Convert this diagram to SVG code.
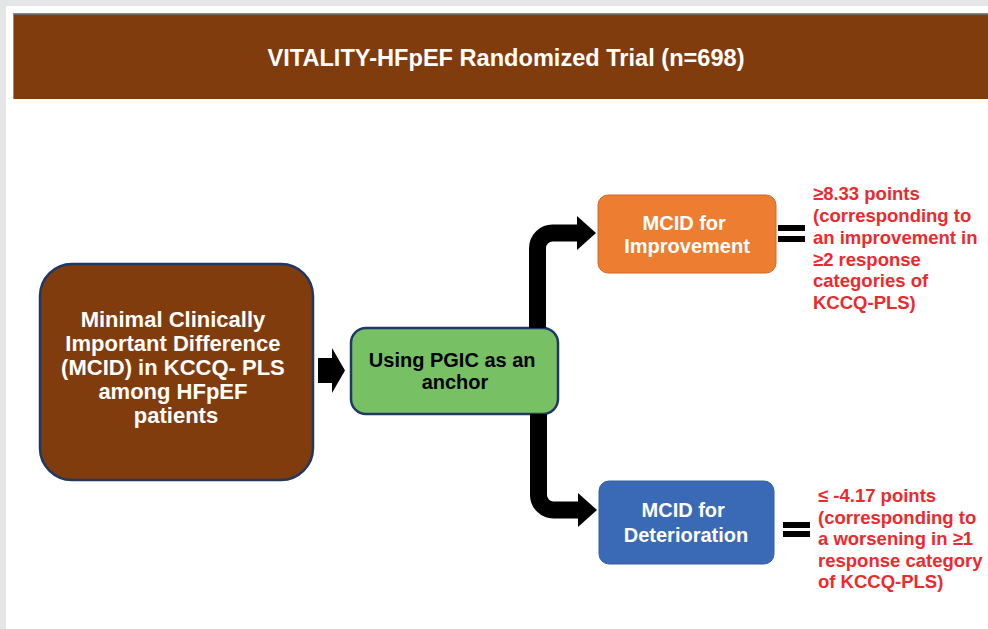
<svg xmlns="http://www.w3.org/2000/svg" width="988" height="629" viewBox="0 0 988 629">
  <style>
    .t { font-family: "Liberation Sans", Arial, sans-serif; font-weight: bold; text-anchor: middle; }
    .w { fill: #ffffff; }
    .k { fill: #000000; }
    .r { font-family: "Liberation Sans", Arial, sans-serif; font-weight: bold; font-size: 18.5px; fill: #ec2a2e; }
    .conn { fill: none; stroke: #000000; stroke-width: 17; }
    .eq { fill: #000000; }
  </style>
  <defs>
    <marker id="head" markerUnits="userSpaceOnUse" markerWidth="20" markerHeight="36" refX="0" refY="17" orient="auto">
      <path d="M0,0 L19,17 L0,34 Z" fill="#000000"/>
    </marker>
  </defs>

  <rect x="0" y="0" width="988" height="629" fill="#e4e5e7"/>
  <rect x="6" y="6" width="982" height="623" fill="#ffffff"/>

  <g id="header">
    <rect x="13" y="13" width="975" height="86" fill="#813c0e"/>
    <rect x="13" y="13" width="975" height="1.5" fill="#6a88c4"/>
    <rect x="13" y="13" width="1" height="86" fill="#9a8a80"/>
    <text class="t w" x="506" y="66" font-size="24" textLength="477" lengthAdjust="spacingAndGlyphs">VITALITY-HFpEF Randomized Trial (n=698)</text>
  </g>

  <g id="mcid-node">
    <rect x="40" y="264" width="273" height="216" rx="32" fill="#813c0e" stroke="#1f3864" stroke-width="2.5"/>
    <text class="t w" font-size="22">
      <tspan x="176" y="327">Minimal Clinically</tspan>
      <tspan x="176" y="351">Important Difference</tspan>
      <tspan x="176" y="375">(MCID) in KCCQ- PLS</tspan>
      <tspan x="176" y="399">among HFpEF</tspan>
      <tspan x="176" y="423">patients</tspan>
    </text>
  </g>

  <g id="pgic-node">
    <rect x="351" y="328" width="207" height="86" rx="15" fill="#77c064" stroke="#1f3864" stroke-width="2.5"/>
    <text class="t k" font-size="20">
      <tspan x="455" y="367">Using PGIC as an</tspan>
      <tspan x="455" y="389">anchor</tspan>
    </text>
  </g>

  <g id="improvement-node">
    <rect x="598" y="195" width="178" height="78" rx="10" fill="#ed7d31" stroke="#d0692a" stroke-width="1"/>
    <text class="t w" font-size="20">
      <tspan x="687" y="230">MCID for</tspan>
      <tspan x="687" y="253">Improvement</tspan>
    </text>
  </g>

  <g id="deterioration-node">
    <rect x="599" y="481" width="175" height="83" rx="10" fill="#3a6ab5" stroke="#33609f" stroke-width="1"/>
    <text class="t w" font-size="20">
      <tspan x="686" y="517">MCID for</tspan>
      <tspan x="686" y="542">Deterioration</tspan>
    </text>
  </g>

  <g id="improvement-value">
    <rect class="eq" x="778" y="225" width="27" height="6"/>
    <rect class="eq" x="778" y="236" width="27" height="6"/>
    <text class="r">
      <tspan x="813" y="200">≥8.33 points</tspan>
      <tspan x="813" y="222">(corresponding to</tspan>
      <tspan x="813" y="244">an improvement in</tspan>
      <tspan x="813" y="265.5">≥2 response</tspan>
      <tspan x="813" y="287">categories of</tspan>
      <tspan x="813" y="308.5">KCCQ-PLS)</tspan>
    </text>
  </g>

  <g id="deterioration-value">
    <rect class="eq" x="783" y="522" width="27" height="6"/>
    <rect class="eq" x="783" y="531" width="27" height="6"/>
    <text class="r">
      <tspan x="818" y="502">≤ -4.17 points</tspan>
      <tspan x="818" y="523.5">(corresponding to</tspan>
      <tspan x="818" y="545">a worsening in ≥1</tspan>
      <tspan x="818" y="566.5">response category</tspan>
      <tspan x="818" y="588">of KCCQ-PLS)</tspan>
    </text>
  </g>

  <g id="connectors">
    <polygon points="318,358 332,358 332,348 345,370.5 332,393 332,383 318,383" fill="#000000"/>
    <path class="conn" d="M537.5,328 V248 A15,15 0 0 1 552.5,233 H577" marker-end="url(#head)"/>
    <path class="conn" d="M538.5,414 V495 A15,15 0 0 0 553.5,510 H578" marker-end="url(#head)"/>
  </g>
</svg>
